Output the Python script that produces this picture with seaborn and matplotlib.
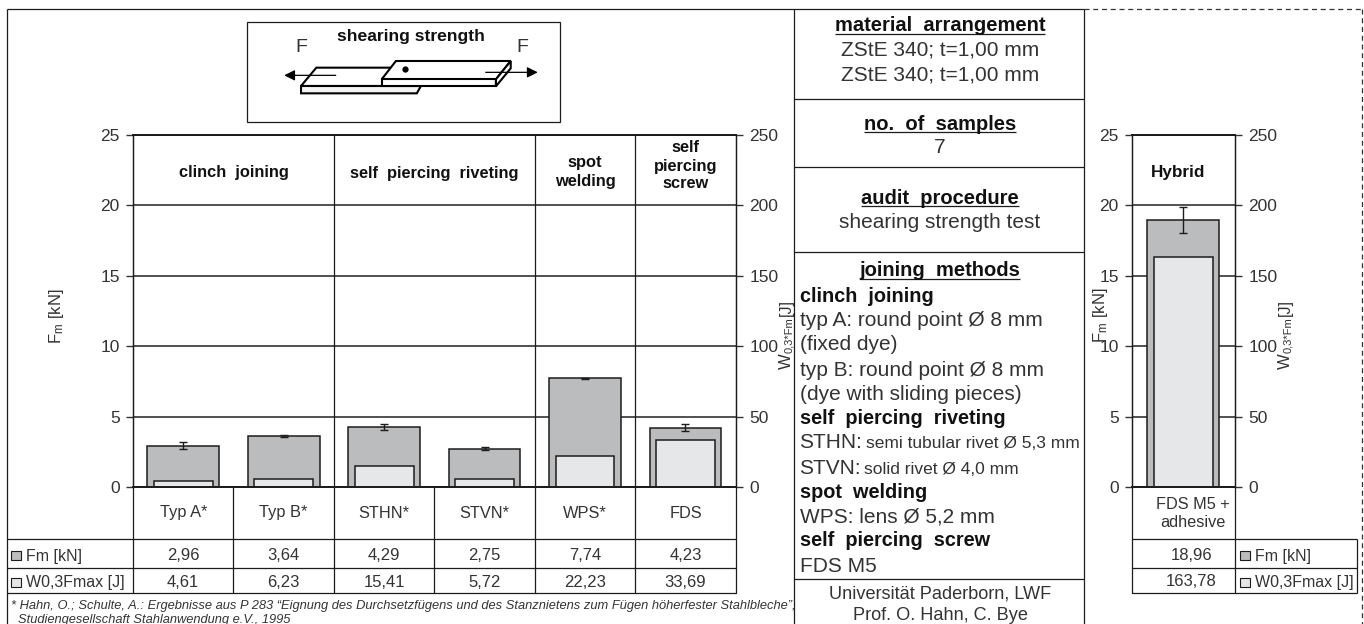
import matplotlib
matplotlib.use('Agg')
import matplotlib.pyplot as plt
from matplotlib.patches import Polygon, Rectangle
import seaborn as sns
import pandas as pd

methods = ['Typ A*', 'Typ B*', 'STHN*', 'STVN*', 'WPS*', 'FDS']
fm_values = [2.96, 3.64, 4.29, 2.75, 7.74, 4.23]
fm_errors = [0.24, 0.10, 0.22, 0.09, 0.05, 0.24]
w_values = [4.61, 6.23, 15.41, 5.72, 22.23, 33.69]

hybrid_method = ['FDS M5 +\nadhesive']
hybrid_fm = [18.96]
hybrid_error = [0.93]
hybrid_w = [163.78]

fm_ticks = [0, 5, 10, 15, 20, 25]
w_ticks = [0, 50, 100, 150, 200, 250]

GREY = '#bbbcbe'
LIGHT = '#e6e7e8'
INK = '#1c1c1c'
TEXT = '#333333'
BOLD = '#111111'
W, H = 1364, 624
TOP, ZERO = 135.0, 487.3

sns.set_theme(style='white')
plt.rcParams['font.family'] = ['Liberation Sans', 'DejaVu Sans']
plt.rcParams['mathtext.default'] = 'regular'
plt.rcParams['text.color'] = TEXT

fig = plt.figure(figsize=(W / 100, H / 100), dpi=100)


def frac(py):
    # pixel row -> axes fraction, all chart axes share the same top and bottom
    return (ZERO - py) / (ZERO - TOP)


def make_axes(x0, x1):
    return fig.add_axes([x0 / W, 1 - ZERO / H, (x1 - x0) / W, (ZERO - TOP) / H])


def bar_panel(ax, df, err, outer_w, inner_w):
    sns.barplot(data=df, x='method', y='fm', color=GREY, saturation=1, width=outer_w,
                edgecolor=INK, linewidth=1.1, errorbar=None, ax=ax)
    ax.errorbar(range(len(df)), df['fm'], yerr=err, fmt='none', ecolor=INK,
                elinewidth=1.0, capsize=3, capthick=1.0, zorder=5)
    ax.set_ylim(0, 25)
    ax.set_xlim(-0.5, len(df) - 0.5)
    ax.set_yticks(fm_ticks)
    ax.set_xticks([])
    ax.set_xlabel('')
    ax.set_ylabel('')
    ax.set_axisbelow(True)
    ax.yaxis.grid(True, color='#333333', lw=1.2)
    ax.tick_params(axis='y', left=True, length=5, width=1, color='#333333',
                   labelsize=12.5, pad=4.5, labelcolor=TEXT)
    ax2 = ax.twinx()
    sns.barplot(data=df, x='method', y='w', color=LIGHT, saturation=1, width=inner_w,
                edgecolor=INK, linewidth=1.1, errorbar=None, ax=ax2)
    ax2.set_ylim(0, 250)
    ax2.set_xlim(-0.5, len(df) - 0.5)
    ax2.set_yticks(w_ticks)
    ax2.set_ylabel('')
    ax2.set_xlabel('')
    ax2.set_xticks([])
    ax2.tick_params(axis='y', right=True, length=5, width=1, color='#333333',
                    labelsize=12.5, pad=5, labelcolor=TEXT)
    for a in (ax, ax2):
        for s in a.spines.values():
            s.set_color(INK)
            s.set_linewidth(0.9)
        a.spines['bottom'].set_linewidth(1.3)
        a.spines['top'].set_linewidth(1.3)
    return ax2


# left panel
df = pd.DataFrame({'method': methods, 'fm': fm_values, 'w': w_values})
ax = make_axes(133, 735.7)
bar_panel(ax, df, fm_errors, 0.715, 0.585)
trans = ax.get_xaxis_transform()
for x in [1.5, 3.5, 4.5]:
    ax.axvline(x, color=INK, lw=0.9, zorder=1)
for x in [-0.5, 0.5, 1.5, 2.5, 3.5, 4.5, 5.5]:
    ax.plot([x, x], [0, frac(593.3)], transform=trans, color=INK, lw=0.9, clip_on=False)
for i in range(len(methods)):
    ax.text(i, frac(513), methods[i], transform=trans, ha='center', va='center', fontsize=11.8)
    ax.text(i, frac(555.7), f'{fm_values[i]:.2f}'.replace('.', ','), transform=trans,
            ha='center', va='center', fontsize=12)
    ax.text(i, frac(582.3), f'{w_values[i]:.2f}'.replace('.', ','), transform=trans,
            ha='center', va='center', fontsize=12)
ax.text(0.5, frac(172.7), 'clinch  joining', transform=trans, ha='center', va='center',
        fontsize=11.8, fontweight='bold', color=BOLD)
ax.text(2.5, frac(173.5), 'self  piercing  riveting', transform=trans, ha='center', va='center',
        fontsize=11.8, fontweight='bold', color=BOLD)
ax.text(4.0, frac(172), 'spot\nwelding', transform=trans, ha='center', va='center',
        fontsize=11.8, fontweight='bold', color=BOLD, linespacing=1.3)
ax.text(5.0, frac(166), 'self\npiercing\nscrew', transform=trans, ha='center', va='center',
        fontsize=11.8, fontweight='bold', color=BOLD, linespacing=1.25)

# right panel
hybrid_df = pd.DataFrame({'method': hybrid_method, 'fm': hybrid_fm, 'w': hybrid_w})
hx = make_axes(1132, 1234.5)
bar_panel(hx, hybrid_df, hybrid_error, 0.70, 0.575)
htrans = hx.get_xaxis_transform()
for x in [-0.5, 0.5]:
    hx.plot([x, x], [0, frac(593.3)], transform=htrans, color=INK, lw=0.9, clip_on=False)
hx.text(-0.05, frac(172), 'Hybrid', transform=htrans, ha='center', va='center',
        fontsize=12.3, fontweight='bold', color=BOLD)
hx.text(0.09, frac(513.5), hybrid_method[0], transform=htrans, ha='center', va='center',
        fontsize=11.7, linespacing=1.2)
hx.text(0.08, frac(555.5), f'{hybrid_fm[0]:.2f}'.replace('.', ','), transform=htrans,
        ha='center', va='center', fontsize=12)
hx.text(0.08, frac(582), f'{hybrid_w[0]:.2f}'.replace('.', ','), transform=htrans,
        ha='center', va='center', fontsize=12)

# everything around the charts, in pixel coordinates
ov = fig.add_axes([0, 0, 1, 1], zorder=10)
ov.set_xlim(0, W)
ov.set_ylim(H, 0)
ov.axis('off')


def line(xs, ys, **kw):
    kw.setdefault('color', INK)
    kw.setdefault('lw', 0.9)
    ov.plot(xs, ys, solid_capstyle='butt', **kw)


def label(x, y, s, size=15, ha='center', **kw):
    return ov.text(x, y, s, fontsize=size, ha=ha, va='center', **kw)


def bold(x, y, s, size=14.3, ha='left'):
    return label(x, y, s, size=size, ha=ha, fontweight='bold', color=BOLD)


def heading(x, y, s):
    t = bold(x, y, s, size=14.5, ha='center')
    bb = t.get_window_extent(fig.canvas.get_renderer())
    line([bb.x0, bb.x1], [y + 8, y + 8], lw=0.9)


# frames
line([7, 1084], [9, 9])
line([7, 7], [9, H])
line([793.5, 793.5], [9, H])
line([1084, 1084], [9, H])
line([1084, 1362], [9, 9], ls=(0, (4, 3)), color='#333333')
line([1362, 1362], [9, H], ls=(0, (4, 3)), color='#333333')
for y in [99.3, 166.7, 252.3, 579]:
    line([793.5, 1084], [y, y])

# table rows, legends
for y in [539.3, 567.6, 593.3]:
    line([7, 735.7], [y, y])
    line([1132, 1357], [y, y])
line([1357, 1357], [539.3, 593.3])
for x0, x_text in [(11, 25.5), (1240, 1255)]:
    ov.add_patch(Rectangle((x0, 550.5), 9.5, 9.5, fc=GREY, ec=INK, lw=0.8))
    ov.add_patch(Rectangle((x0, 577.5), 9.5, 9.5, fc=LIGHT, ec=INK, lw=0.8))
    label(x_text, 556, 'Fm [kN]', size=11.5, ha='left')
    label(x_text, 583, 'W0,3Fmax [J]', size=11.5, ha='left')

# axis titles
for x, y in [(56, 316), (1101, 315)]:
    label(x, y, 'F$_m$ [kN]', size=12, rotation=90)
for x in [786, 1285]:
    label(x, 361, 'W', size=12, rotation=90)
    label(x + 3, 335, '0,3*Fm', size=8, rotation=90)
    label(x, 307, '[J]', size=11.5, rotation=90)

# footnote
label(11, 605.7, '* Hahn, O.; Schulte, A.: Ergebnisse aus P 283 \u201cEignung des Durchsetzf\u00fcgens und des '
      'Stanznietens zum F\u00fcgen h\u00f6herfester Stahlbleche\u201d,', size=9.27, ha='left', style='italic')
label(18, 619.5, 'Studiengesellschaft Stahlanwendung e.V., 1995', size=9.27, ha='left', style='italic')

# info column
CX = 940
heading(CX, 25.7, 'material  arrangement')
label(CX, 50, 'ZStE 340; t=1,00 mm')
label(CX, 75, 'ZStE 340; t=1,00 mm')
heading(CX, 124, 'no.  of  samples')
label(CX, 147.7, '7')
heading(CX, 198, 'audit  procedure')
label(CX, 222, 'shearing strength test')
heading(CX, 271, 'joining  methods')
LX = 799.5
bold(LX, 296, 'clinch  joining')
label(LX, 320, 'typ A: round point \u00d8 8 mm', ha='left')
label(LX, 345, '(fixed dye)', ha='left')
label(LX, 370, 'typ B: round point \u00d8 8 mm', ha='left')
label(LX, 394, '(dye with sliding pieces)', ha='left')
bold(LX, 418, 'self  piercing  riveting')
label(LX, 443, 'STHN:', ha='left')
label(866.5, 444, 'semi tubular rivet \u00d8 5,3 mm', size=12.5, ha='left')
label(LX, 468, 'STVN:', ha='left')
label(864, 469, 'solid rivet \u00d8 4,0 mm', size=12.5, ha='left')
bold(LX, 492, 'spot  welding')
label(LX, 517, 'WPS: lens \u00d8 5,2 mm', ha='left')
bold(LX, 541, 'self  piercing  screw')
label(LX, 566, 'FDS M5', ha='left')
label(CX, 594, 'Universit\u00e4t Paderborn, LWF', size=13.1)
label(CX, 616, 'Prof. O. Hahn, C. Bye', size=13.1)

ov.add_patch(Rectangle((247.4, 22.3), 312.6, 100, fc='white', ec=INK, lw=0.9))
bold(410.7, 36, 'shearing strength', size=12.6, ha='center')
label(301, 47, 'F', size=14)
label(522.4, 47, 'F', size=14)


def z(points):
    return [(px / 1.96, py / 3) for px, py in points]


def plate(points, fc='white'):
    ov.add_patch(Polygon(z(points), closed=True, fc=fc, ec='black', lw=1.5, joinstyle='miter'))


plate([(590, 258), (620, 203), (790, 203), (790, 258)])
plate([(590, 258), (825, 258), (817, 280), (590, 280)], fc='#f4f4f4')
plate([(748, 238), (776, 183), (1001, 183), (972, 238)])
plate([(748, 238), (972, 238), (972, 259), (748, 259)])
plate([(972, 238), (1001, 183), (1001, 205), (972, 259)])
ov.plot([794 / 1.96], [208 / 3], 'o', color='black', ms=3.5)
for x_start, x_end, y in [(658, 557, 226), (952, 1054, 217)]:
    ov.annotate('', xy=(x_end / 1.96, y / 3), xytext=(x_start / 1.96, y / 3),
                arrowprops=dict(arrowstyle='-|>', color='black', lw=0.9, mutation_scale=16,
                                shrinkA=0, shrinkB=0))

fig.savefig('out.png', dpi=100)
